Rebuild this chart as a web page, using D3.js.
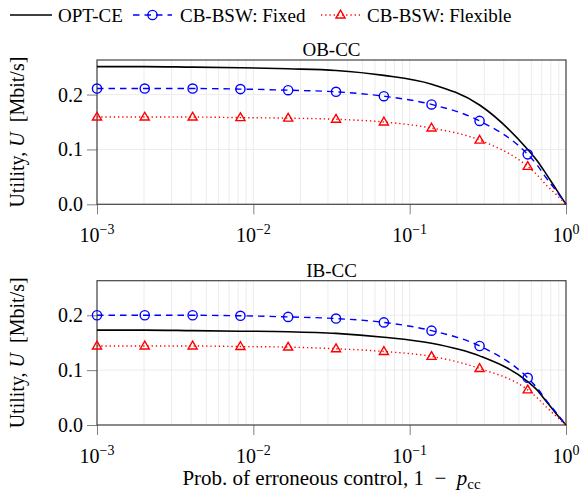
<!DOCTYPE html>
<html>
<head>
<meta charset="utf-8">
<script src="https://cdn.jsdelivr.net/npm/d3@7"></script>
<style>
  body { margin: 0; background: #fff; }
  svg { display: block; font-family: "Liberation Serif", "Times New Roman", serif; }
</style>
</head>
<body>
<div id="chart"></div>
<script>
// x positions (1 - p_cc); first 10 carry markers
const xVals = [0.001, 0.00202, 0.00409, 0.00827, 0.0167, 0.0338, 0.0684, 0.138, 0.280, 0.569, 0.652, 0.748, 0.858, 1.0];
const markerCount = 10;

// OB-CC panel
const obOpt   = [0.251, 0.251, 0.250, 0.249, 0.247, 0.244, 0.235, 0.219, 0.181, 0.100, 0.080, 0.055, 0.029, 0];
const obFixed = [0.211, 0.211, 0.211, 0.210, 0.208, 0.205, 0.197, 0.182, 0.152, 0.091, 0.072, 0.048, 0.026, 0];
const obFlex  = [0.159, 0.159, 0.159, 0.158, 0.157, 0.155, 0.150, 0.139, 0.117, 0.069, 0.054, 0.035, 0.019, 0];

// IB-CC panel
const ibOpt   = [0.173, 0.173, 0.172, 0.171, 0.170, 0.167, 0.160, 0.149, 0.126, 0.079, 0.064, 0.043, 0.022, 0];
const ibFixed = [0.200, 0.200, 0.200, 0.199, 0.197, 0.194, 0.187, 0.172, 0.144, 0.086, 0.068, 0.045, 0.024, 0];
const ibFlex  = [0.144, 0.144, 0.144, 0.143, 0.142, 0.139, 0.134, 0.125, 0.103, 0.064, 0.050, 0.033, 0.017, 0];

const xTicks = [1e-3, 1e-2, 1e-1, 1];
const xTickExp = ['\u22123', '\u22122', '\u22121', '0'];
const yTicks = [0, 0.1, 0.2];
const yMax = 0.263;

const seriesNames = ['OPT-CE', 'CB-BSW: Fixed', 'CB-BSW: Flexible'];

const W = 582, H = 493;
const plotLeft = 97, plotRight = 566;

const svg = d3.select('#chart').append('svg')
  .attr('width', W)
  .attr('height', H);

const x = d3.scaleLog().domain([1e-3, 1]).range([plotLeft, plotRight]);

const styles = [
  { color: '#000', width: 1.6, dash: null, marker: null },
  { color: '#0000ff', width: 1.4, dash: '6.5,5', marker: 'circle' },
  { color: '#ff0000', width: 1.4, dash: '1.3,2.9', marker: 'triangle' }
];

function drawMarker(g, type, cx, cy, color) {
  if (type === 'circle') {
    g.append('circle')
      .attr('cx', cx).attr('cy', cy).attr('r', 4.6)
      .attr('fill', 'none')
      .attr('stroke', color)
      .attr('stroke-width', 1.4);
  } else if (type === 'triangle') {
    const s = 4.8;
    g.append('path')
      .attr('d', `M${cx},${cy - s}L${cx + s * 0.95},${cy + s * 0.62}L${cx - s * 0.95},${cy + s * 0.62}Z`)
      .attr('fill', 'none')
      .attr('stroke', color)
      .attr('stroke-width', 1.4)
      .attr('stroke-linejoin', 'miter');
  }
}

function drawPanel(top, bottom, title, series) {
  const y = d3.scaleLinear().domain([0, yMax]).range([bottom, top]);
  const g = svg.append('g');

  // grid: minor and major log lines
  const gridX = [];
  for (let e = -3; e < 0; e++) {
    for (let m = 1; m < 10; m++) gridX.push(m * Math.pow(10, e));
  }
  gridX.push(1);
  g.selectAll('.vgrid')
    .data(gridX)
    .enter().append('line')
    .attr('x1', d => x(d)).attr('x2', d => x(d))
    .attr('y1', top).attr('y2', bottom)
    .attr('stroke', '#ececec')
    .attr('stroke-width', 1);

  g.selectAll('.hgrid')
    .data(yTicks)
    .enter().append('line')
    .attr('x1', plotLeft).attr('x2', plotRight)
    .attr('y1', d => y(d)).attr('y2', d => y(d))
    .attr('stroke', '#ececec')
    .attr('stroke-width', 1);

  // X axis ticks
  const xAxis = g.append('g')
    .attr('transform', `translate(0,${bottom})`)
    .call(d3.axisBottom(x).tickValues(xTicks).tickSize(10).tickFormat(''));
  xAxis.select('.domain').remove();
  xAxis.selectAll('line').attr('stroke', '#808080').attr('stroke-width', 1);

  // Y axis ticks
  const yAxis = g.append('g')
    .attr('transform', `translate(${plotLeft},0)`)
    .call(d3.axisLeft(y).tickValues(yTicks).tickSize(10).tickFormat(''));
  yAxis.select('.domain').remove();
  yAxis.selectAll('line').attr('stroke', '#808080').attr('stroke-width', 1);

  // X tick labels with superscript
  xTicks.forEach((t, i) => {
    const txt = g.append('text')
      .attr('x', x(t))
      .attr('y', bottom + 38)
      .attr('text-anchor', 'middle')
      .style('font-size', '20px')
      .style('fill', '#000');
    txt.append('tspan').text('10');
    txt.append('tspan')
      .attr('dy', -8)
      .style('font-size', '14px')
      .text(xTickExp[i]);
  });

  // Y tick labels
  g.selectAll('.ylab')
    .data(yTicks)
    .enter().append('text')
    .attr('x', 83)
    .attr('y', d => y(d) + 7)
    .attr('text-anchor', 'end')
    .style('font-size', '20px')
    .text(d => d3.format('.1f')(d));

  // Frame
  g.append('rect')
    .attr('x', plotLeft).attr('y', top)
    .attr('width', plotRight - plotLeft)
    .attr('height', bottom - top)
    .attr('fill', 'none')
    .attr('stroke', '#444')
    .attr('stroke-width', 1.2);

  // Title
  g.append('text')
    .attr('x', (plotLeft + plotRight) / 2)
    .attr('y', top - 4)
    .attr('text-anchor', 'middle')
    .style('font-size', '19px')
    .text(title);

  // Y axis label
  const yl = g.append('text')
    .attr('transform', `translate(24,${(top + bottom) / 2}) rotate(-90)`)
    .attr('text-anchor', 'middle')
    .style('font-size', '20px');
  yl.append('tspan').text('Utility, ');
  yl.append('tspan').style('font-style', 'italic').text('U');
  yl.append('tspan').text('\u2002[Mbit/s]');

  // Lines
  const line = d3.line()
    .x(d => x(d.x))
    .y(d => y(d.y))
    .curve(d3.curveMonotoneX);

  series.forEach((vals, si) => {
    const st = styles[si];
    const pts = xVals.map((xv, i) => ({ x: xv, y: vals[i] }));
    g.append('path')
      .datum(pts)
      .attr('d', line)
      .attr('fill', 'none')
      .attr('stroke', st.color)
      .attr('stroke-width', st.width)
      .attr('stroke-dasharray', st.dash);
    if (st.marker) {
      pts.slice(0, markerCount).forEach(p => {
        drawMarker(g, st.marker, x(p.x), y(p.y), st.color);
      });
    }
  });
}

drawPanel(60, 204.3, 'OB-CC', [obOpt, obFixed, obFlex]);
drawPanel(280.7, 425, 'IB-CC', [ibOpt, ibFixed, ibFlex]);

// X axis title
const xt = svg.append('text')
  .attr('x', (plotLeft + plotRight) / 2)
  .attr('y', 485)
  .attr('text-anchor', 'middle')
  .style('font-size', '21px');
xt.append('tspan').text('Prob. of erroneous control, 1\u2002\u2212\u2002');
xt.append('tspan').style('font-style', 'italic').text('p');
xt.append('tspan').attr('dy', 4).style('font-size', '15px').text('cc');

// Legend
const legend = svg.append('g');
const legendItems = [
  { x0: 10, x1: 52, tx: 58 },
  { x0: 133, x1: 172, tx: 180 },
  { x0: 321, x1: 360, tx: 367 }
];
legendItems.forEach((it, i) => {
  const st = styles[i];
  legend.append('line')
    .attr('x1', it.x0).attr('x2', it.x1)
    .attr('y1', 15).attr('y2', 15)
    .attr('stroke', st.color)
    .attr('stroke-width', st.width)
    .attr('stroke-dasharray', st.dash);
  if (st.marker) drawMarker(legend, st.marker, (it.x0 + it.x1) / 2, 15, st.color);
  legend.append('text')
    .attr('x', it.tx)
    .attr('y', 22)
    .style('font-size', '19px')
    .text(seriesNames[i]);
});
</script>
</body>
</html>
